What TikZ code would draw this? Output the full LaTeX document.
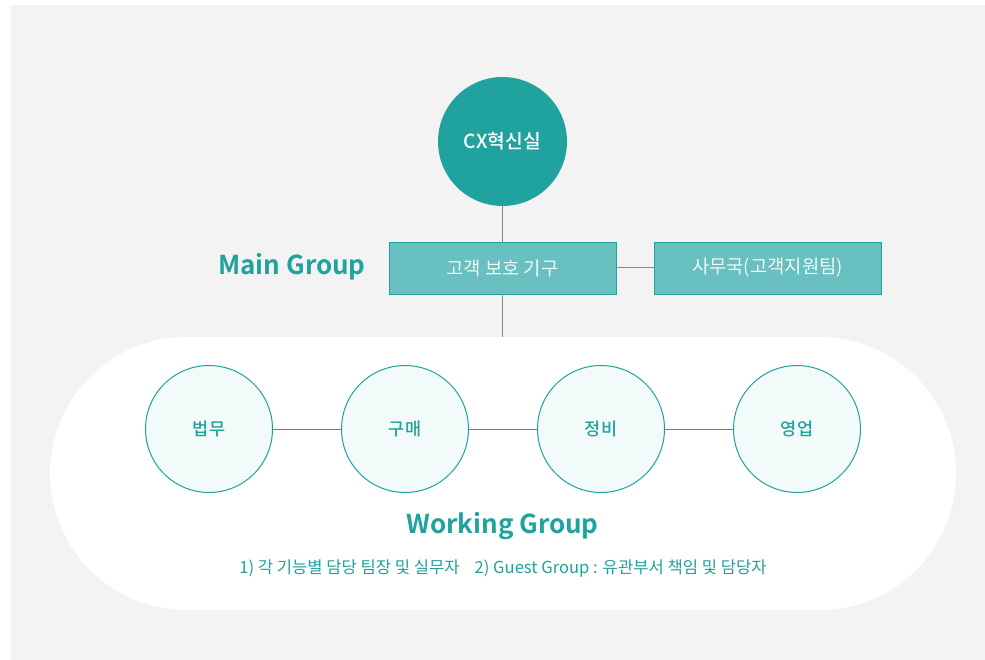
\documentclass[tikz,border=0pt]{standalone}
\usepackage{fontspec}
\setmainfont{Noto Sans CJK KR}
\newfontfamily\krbold{Noto Sans CJK KR Bold}
\newfontfamily\krmed{Noto Sans CJK KR Medium}
\newfontfamily\krlight{Noto Sans CJK KR DemiLight}
\definecolor{teal1}{HTML}{20A29E}
\definecolor{boxfill}{HTML}{69C0C0}
\definecolor{cfill}{HTML}{F3FAFA}
\definecolor{bgray}{HTML}{F3F3F3}
\definecolor{lgray}{HTML}{8A8A8A}
\tikzset{
  topcircle/.style={circle, fill=teal1, minimum size=129pt, inner sep=0pt, text=white, font=\krmed\fontsize{19.3}{21}\selectfont},
  mainbox/.style={rectangle, draw=teal1, line width=0.9pt, fill=boxfill, minimum width=227pt, minimum height=52pt, inner sep=0pt, text=white, font=\krlight\fontsize{18.8}{20}\selectfont},
  wcircle/.style={circle, draw=teal1, line width=1pt, fill=cfill, minimum size=127pt, inner sep=0pt, text=teal1, font=\krmed\fontsize{17.5}{19}\selectfont},
  glink/.style={draw=lgray, line width=1pt},
  tlink/.style={draw=teal1, line width=0.8pt},
  grouptitle/.style={text=teal1, font=\krbold\fontsize{26}{28}\selectfont, inner sep=0pt},
  notetext/.style={text=teal1, font=\fontsize{16.6}{18}\selectfont, inner sep=0pt}
}
\begin{document}
\begin{tikzpicture}[x=1pt,y=-1pt]
\useasboundingbox (0,0) rectangle (985,660);
\fill[white] (0,0) rectangle (985,660);
\fill[bgray] (11,5) rectangle (985,660);
\node[rectangle, fill=white, rounded corners=136.5pt, minimum width=906pt, minimum height=273pt, inner sep=0pt] (wg) at (503,473.5) {};
\node[topcircle] (cx) at (502.5,141.5) {CX혁신실};
\node[mainbox] (b1) at (502.5,268) {고객 보호 기구};
\node[mainbox] (b2) at (767.5,268) {사무국(고객지원팀)};
\draw[glink] (cx.south) -- (b1.north);
\draw[glink] (b1.east) -- (b2.west);
\draw[glink] (b1.south) -- (b1.south |- wg.north);
\node[grouptitle] (mg) at (292,267) {Main Group};
\node[wcircle] (c1) at (209,429) {법무};
\node[wcircle] (c2) at (405,429) {구매};
\node[wcircle] (c3) at (601,429) {정비};
\node[wcircle] (c4) at (797,429) {영업};
\draw[tlink] (c1.east) -- (c2.west);
\draw[tlink] (c2.east) -- (c3.west);
\draw[tlink] (c3.east) -- (c4.west);
\node[grouptitle] (wgt) at (502.5,526) {Working Group};
\node[notetext] (note) at (503,569) {1) 각 기능별 담당 팀장 및 실무자\hspace{0.9em}2) Guest Group : 유관부서 책임 및 담당자};
\end{tikzpicture}
\end{document}
